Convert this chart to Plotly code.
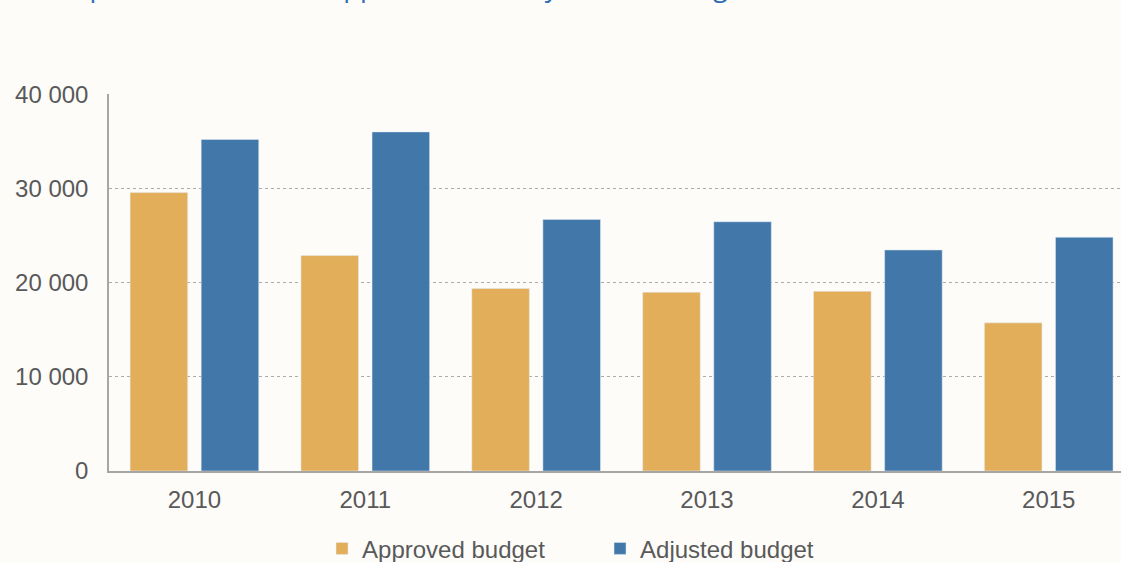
import plotly.graph_objects as go

years = ['2010', '2011', '2012', '2013', '2014', '2015']
approved = [29600, 22900, 19400, 19000, 19100, 15750]
adjusted = [35250, 36050, 26750, 26500, 23500, 24850]
y_ticks = [0, 10000, 20000, 30000, 40000]

title_text = 'Development allocations: approved versus year-end budget'

bg = '#FDFCF9'
grey_text = '#595959'

fig = go.Figure()
fig.add_trace(go.Bar(x=years, y=approved, name='Approved budget', marker_color='#E2AE5A'))
fig.add_trace(go.Bar(x=years, y=adjusted, name='Adjusted budget', marker_color='#4277AA'))

fig.update_layout(
    width=1121,
    height=562,
    paper_bgcolor=bg,
    plot_bgcolor=bg,
    margin=dict(l=109, r=0, t=94, b=91, autoexpand=False),
    font=dict(family='Liberation Sans, Arial', color=grey_text),
    separators='. ',
    barmode='group',
    bargap=0.168,
    bargroupgap=0.19,
    legend=dict(
        orientation='h',
        x=0.2105, xanchor='left',
        yref='container', y=0.0235, yanchor='middle',
        font=dict(size=24),
        entrywidth=233,
        bgcolor='rgba(0,0,0,0)',
    ),
    annotations=[dict(
        text=title_text, xref='paper', yref='paper', x=-0.1067, y=1.233,
        xanchor='left', yanchor='bottom', showarrow=False,
        font=dict(family='Open Sans', size=27, color='#2F6EB5'),
    )],
)

fig.update_xaxes(
    range=[-0.5, 5.423],
    showline=True, linecolor='#A6A6A6', linewidth=1.5,
    showgrid=False,
    ticks='', ticklabelstandoff=6,
    tickfont=dict(size=24),
)
fig.update_yaxes(
    range=[0, 40080],
    tickvals=y_ticks, tickformat=',d',
    showline=True, linecolor='#A6A6A6', linewidth=1.5,
    showgrid=True, gridcolor='#ABABAB', gridwidth=1, griddash='dot',
    zeroline=False,
    ticks='', ticklabelstandoff=14,
    tickfont=dict(size=24),
)

fig.write_html('out.html', config={'displayModeBar': False},
               post_script="document.body.style.margin='0px';")
